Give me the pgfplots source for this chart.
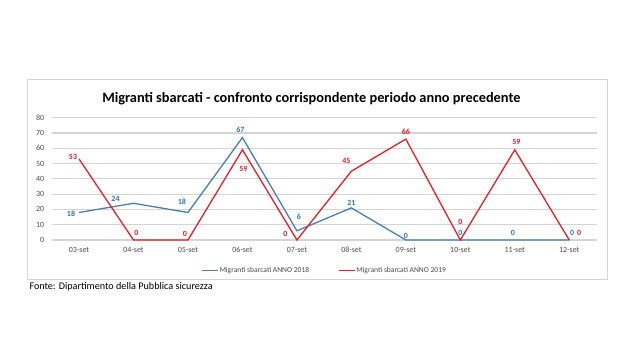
\documentclass[border=0pt]{standalone}
\usepackage{pgfplots}
\pgfplotsset{compat=1.18}
\usepackage{pgfplotstable}
\usepackage{fontspec}
\setmainfont{Carlito}
\definecolor{blu}{HTML}{4A7EB0}
\definecolor{blulab}{HTML}{2E74B8}
\definecolor{rosso}{HTML}{E0202A}
\definecolor{rossolab}{HTML}{D91F2A}
\definecolor{griglia}{HTML}{D4D4D4}
\definecolor{testo}{HTML}{4A4A4A}
\pgfplotstableread{
x y dx dy
0 18 -8 -1.5
1 24 -18 4
2 18 -6 10.5
3 67 -2 7.6
4 6 2 14
5 21 0 5
6 0 0 4
7 0 0 6.7
8 0 -2 6.7
9 0 3 7
}\anno
\pgfplotstableread{
x y dx dy
0 53 -6 2.3
1 0 3 7
2 0 -3 6
3 59 1 -19.5
4 0 -11.6 6
5 45 -5 10.5
6 66 0 7.5
7 0 0 18.3
8 59 1.5 7.5
9 0 10 7
}\annob
\pgfplotsset{lab/.style={
  draw=none, mark=none, forget plot,
  nodes near coords,
  visualization depends on={\thisrow{dx}\as\dx},
  visualization depends on={\thisrow{dy}\as\dy},
  every node near coord/.append style={anchor=center, xshift=\dx*1bp, yshift=\dy*1bp, font=\fontsize{8}{9}\selectfont\bfseries, inner sep=0pt, text=#1},
}}
\begin{document}
\begin{tikzpicture}
\useasboundingbox (0,0) rectangle (642bp,350bp);
\draw[griglia, line width=0.9bp] (27bp,71bp) rectangle (607bp,271bp);
\node[font=\fontsize{14.4}{16}\selectfont\bfseries, anchor=center] at (311.4bp,251bp) {Migranti sbarcati - confronto corrispondente periodo anno precedente};
\node[font=\fontsize{10.2}{12}\selectfont, anchor=west, inner sep=0pt] at (29.3bp,63.3bp) {Fonte: Dipartimento della Pubblica sicurezza};
\begin{axis}[
  at={(51.8bp,110bp)}, anchor=south west,
  width=544.7bp, height=122.3bp, scale only axis,
  xmin=-0.5, xmax=9.5, ymin=0, ymax=80,
  xtick={0,...,9},
  xticklabels={03-set,04-set,05-set,06-set,07-set,08-set,09-set,10-set,11-set,12-set},
  ytick={0,10,...,80},
  /pgf/number format/assume math mode=true,
  axis line style={draw=none},
  major tick length=0pt,
  ymajorgrids,
  grid style={griglia, line width=1.2bp},
  tick label style={font=\fontsize{8}{9}\selectfont, text=testo},
  yticklabel style={xshift=-4bp},
  xticklabel style={yshift=-3.5bp},
  clip=false,
  legend columns=2,
  legend style={at={(axis description cs:0.4997,-0.25)}, anchor=center, draw=none, fill=none,
    font=\fontsize{7.6}{9}\selectfont, text=testo,
    /tikz/every even column/.append style={column sep=28bp},
    nodes={inner sep=0.8bp}},
  legend image code/.code={\draw[#1, line width=1.5bp] (0bp,0bp) -- (16bp,0bp);},
]
\addplot[blu, line width=1.3bp, mark=none] table[x=x,y=y] {\anno};
\addlegendentry{Migranti sbarcati ANNO 2018}
\addplot[rosso, line width=1.3bp, mark=none] table[x=x,y=y] {\annob};
\addlegendentry{Migranti sbarcati ANNO 2019}
\addplot[lab=blulab] table[x=x,y=y] {\anno};
\addplot[lab=rossolab] table[x=x,y=y] {\annob};
\end{axis}
\end{tikzpicture}
\end{document}
